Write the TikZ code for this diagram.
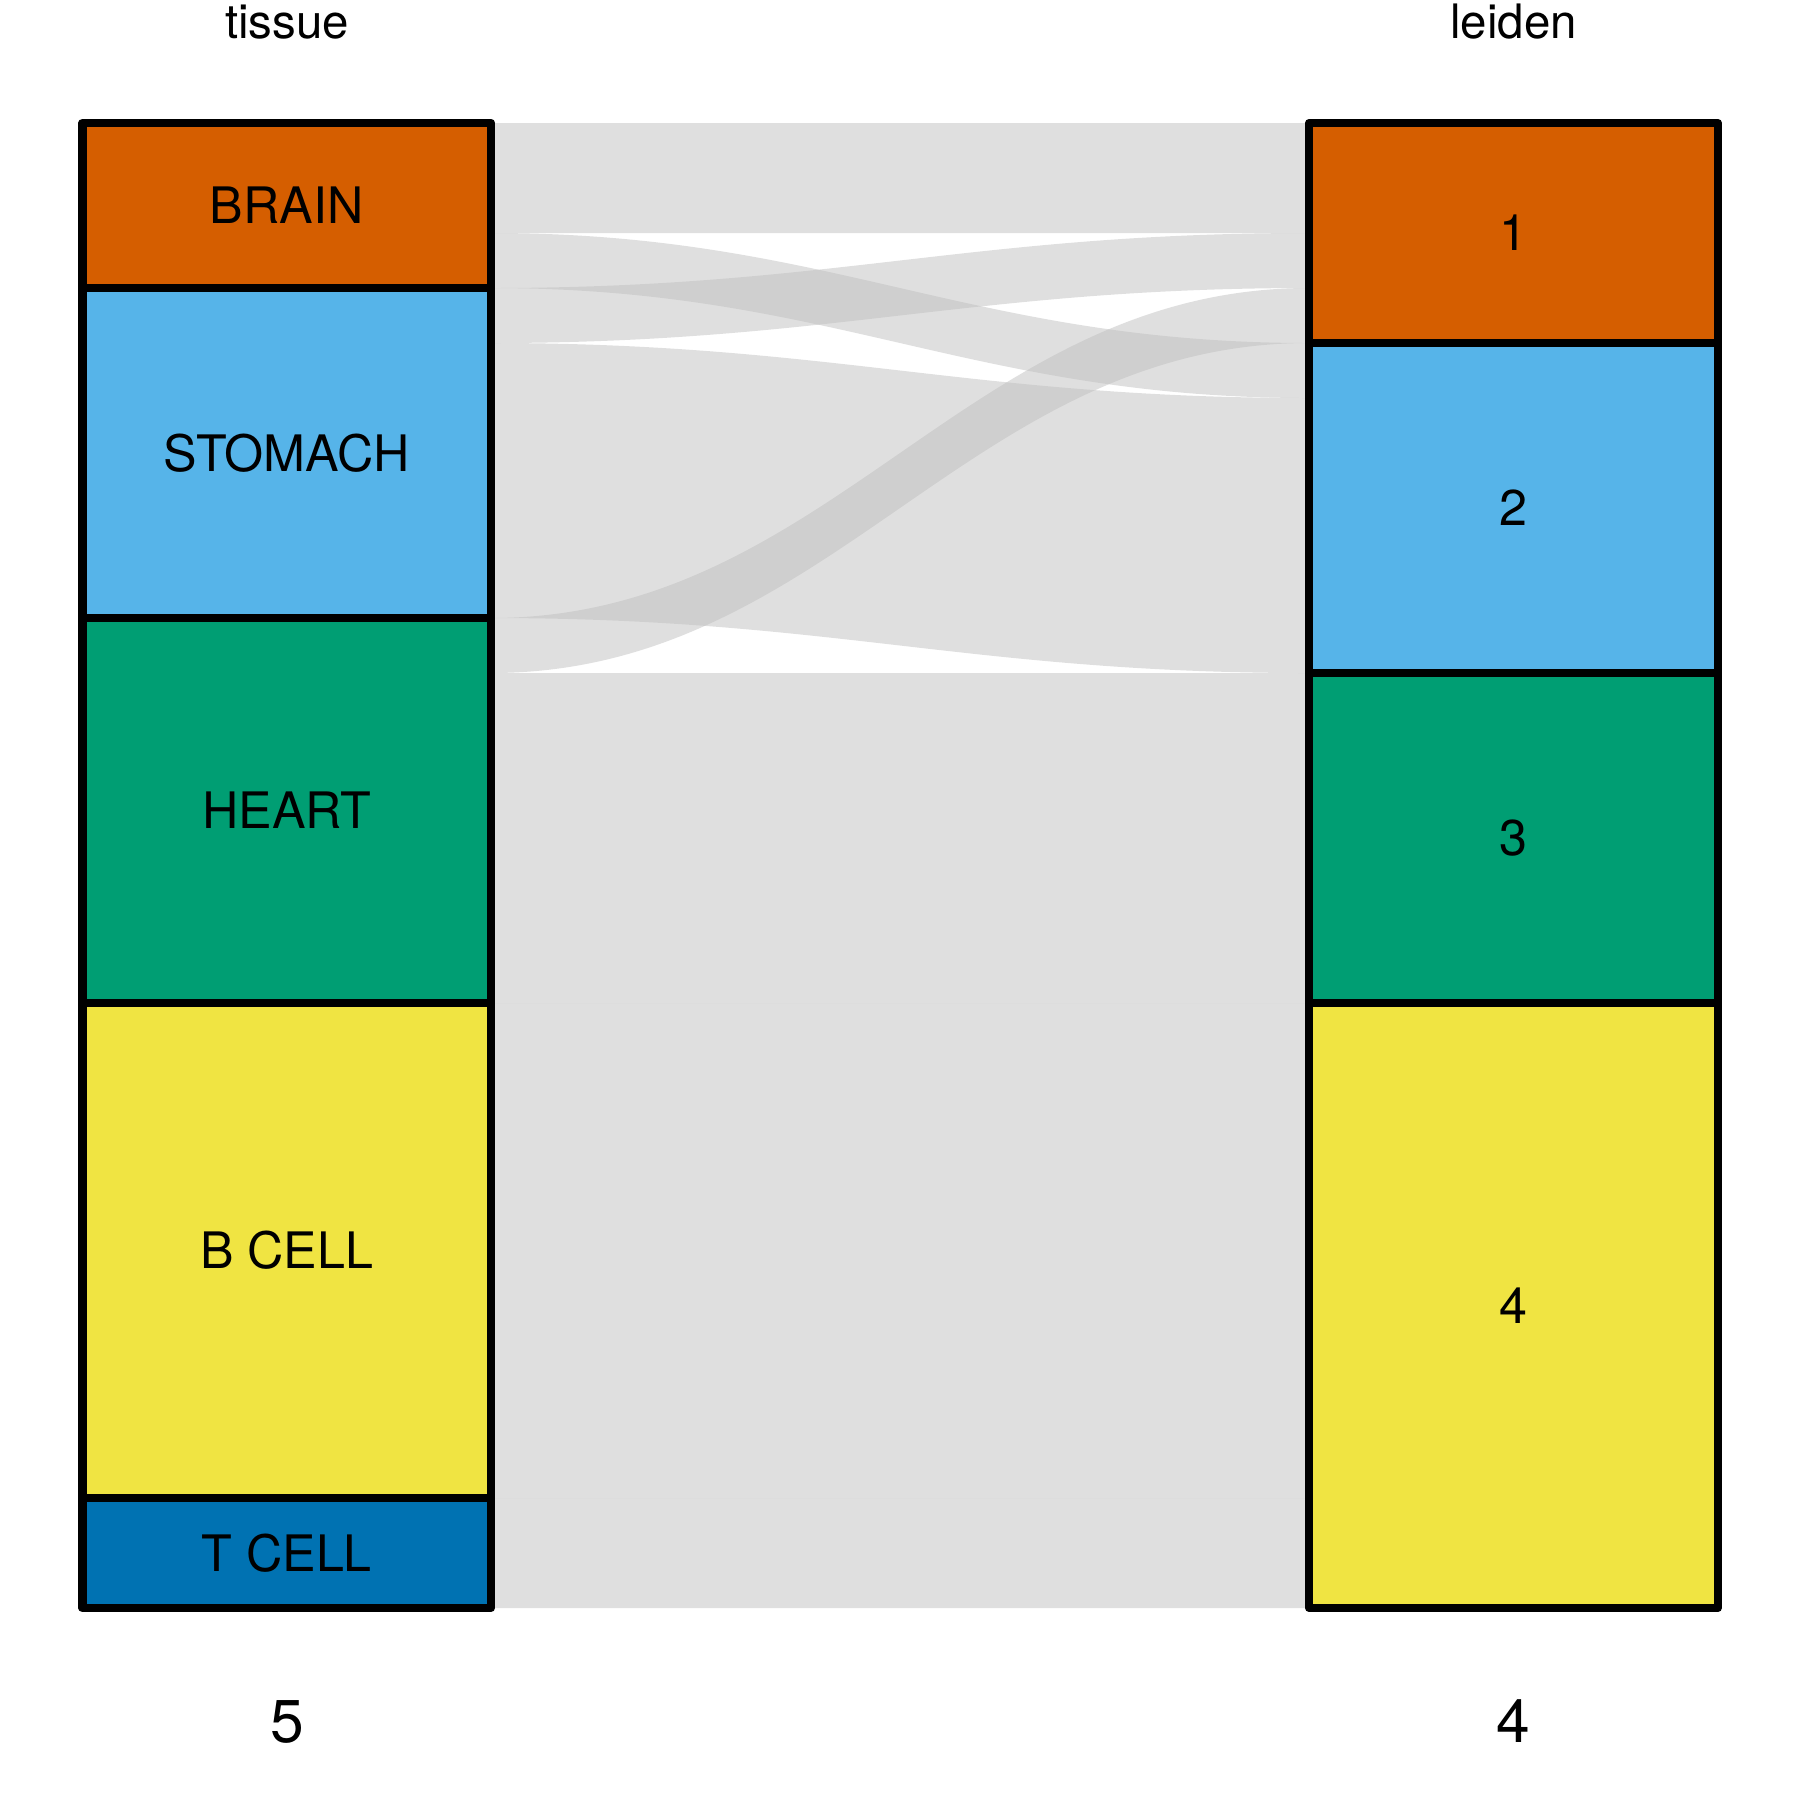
\documentclass[tikz,border=0pt]{standalone}
\usepackage{fontspec}
\setmainfont{TeX Gyre Heros}
\definecolor{brainc}{HTML}{D55E00}
\definecolor{stomachc}{HTML}{56B4E9}
\definecolor{heartc}{HTML}{009E73}
\definecolor{bcellc}{HTML}{F0E442}
\definecolor{tcellc}{HTML}{0072B2}
\begin{document}
\begin{tikzpicture}
    [   y=-1cm,
        snode/.style={draw=black,fill=#1,line width=2.4pt,line join=round,minimum width=4.085cm,inner sep=0pt,font=\fontsize{14.3}{16}\selectfont},
        flow/.style={fill=black!25,fill opacity=0.5},
        axlab/.style={anchor=base,font=\fontsize{13.5}{16}\selectfont},
        count/.style={anchor=base,font=\fontsize{17.2}{20}\selectfont},
    ]
        \useasboundingbox (0,0) rectangle (18,18);
        \foreach \la/\lb/\ra/\rb in {0/2/0/2,2/3/4/5,3/4/2/3,4/9/5/10,9/10/3/4,10/16/10/16,16/25/16/25,25/27/25/27}
        {   \fill[flow] (4.91,{1.23+0.55*\la}) .. controls (8.31,{1.23+0.55*\la}) and (9.69,{1.23+0.55*\ra}) .. (13.09,{1.23+0.55*\ra})
                -- (13.09,{1.23+0.55*\rb}) .. controls (9.69,{1.23+0.55*\rb}) and (8.31,{1.23+0.55*\lb}) .. (4.91,{1.23+0.55*\lb}) -- cycle;
        }
        \foreach \n/\t/\a/\b/\c in {brain/BRAIN/0/3/brainc,stomach/STOMACH/3/9/stomachc,heart/HEART/9/16/heartc,bcell/B CELL/16/25/bcellc,tcell/T CELL/25/27/tcellc}
        {   \node[snode=\c,minimum height={0.55cm*(\b-\a)}] (\n) at (2.8675,{1.23+0.275*(\a+\b)}) {\t};
        }
        \foreach \n/\a/\b/\c in {1/0/4/brainc,2/4/10/stomachc,3/10/16/heartc,4/16/27/bcellc}
        {   \node[snode=\c,minimum height={0.55cm*(\b-\a)}] (c\n) at (15.135,{1.23+0.275*(\a+\b)}) {\n};
        }
        \node[axlab] (tissue) at (2.87,0.38) {tissue};
        \node[axlab] (leiden) at (15.135,0.38) {leiden};
        \node[count] (ntissue) at (2.87,17.427) {5};
        \node[count] (nleiden) at (15.135,17.427) {4};
    \end{tikzpicture}
\end{document}
